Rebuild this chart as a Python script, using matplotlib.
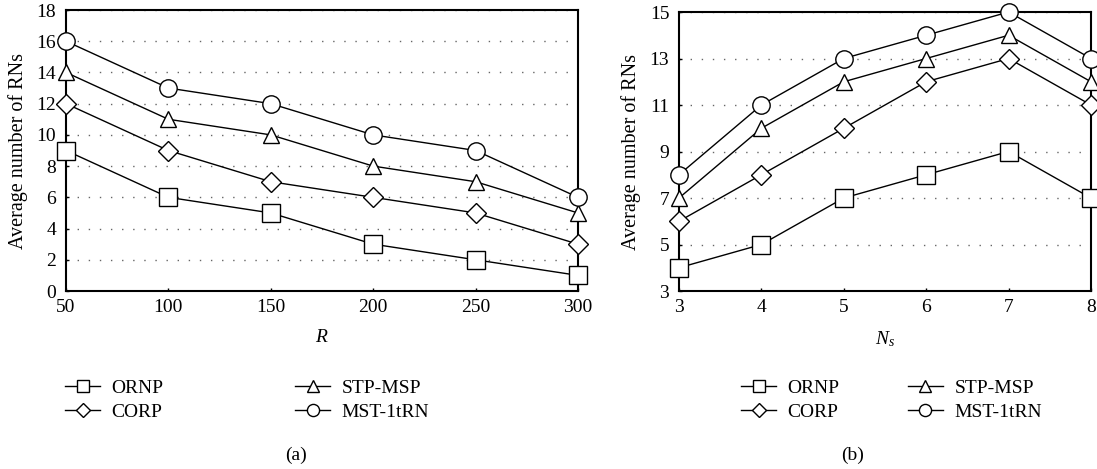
import matplotlib
matplotlib.use("Agg")
import matplotlib.pyplot as plt

plt.rcParams['font.family'] = ['Liberation Serif', 'DejaVu Serif']
plt.rcParams['mathtext.fontset'] = 'custom'
plt.rcParams['mathtext.it'] = 'Liberation Serif:italic'
plt.rcParams['mathtext.rm'] = 'Liberation Serif'

series_names = ["ORNP", "CORP", "STP-MSP", "MST-1tRN"]
markers = ["s", "D", "^", "o"]

R_values = [50, 100, 150, 200, 250, 300]
a_ornp = [9, 6, 5, 3, 2, 1]
a_corp = [12, 9, 7, 6, 5, 3]
a_stp = [14, 11, 10, 8, 7, 5]
a_mst = [16, 13, 12, 10, 9, 6]

Ns_values = [3, 4, 5, 6, 7, 8]
b_ornp = [4, 5, 7, 8, 9, 7]
b_corp = [6, 8, 10, 12, 13, 11]
b_stp = [7, 10, 12, 13, 14, 12]
b_mst = [8, 11, 13, 14, 15, 13]

W, H = 1097, 469
fig = plt.figure(figsize=(W / 100, H / 100), dpi=100)
ax1 = fig.add_axes([66 / W, 178 / H, 512 / W, 281 / H])
ax2 = fig.add_axes([679 / W, 178 / H, 412 / W, 279 / H])

msizes = {"s": 12.5, "D": 10, "^": 12, "o": 12.5}
FS = 14

def draw(ax, x, ys, xticks, yticks, ylim, xlabel):
    handles = []
    for y, m, name in zip(ys, markers, series_names):
        h, = ax.plot(x, y, marker=m, color='black', lw=1.0, markersize=msizes[m],
                     markerfacecolor='white', markeredgecolor='black', markeredgewidth=1.0,
                     label=name, clip_on=False, zorder=3)
        handles.append(h)
    ax.set_xlim(x[0], x[-1])
    ax.set_ylim(*ylim)
    ax.set_xticks(xticks)
    ax.set_yticks(yticks)
    ax.yaxis.grid(True, linestyle=(0, (1, 7)), color='#666666', lw=1.0)
    ax.set_axisbelow(True)
    for s in ax.spines.values():
        s.set_linewidth(1.5)
    ax.tick_params(direction='in', length=2, labelsize=FS, width=1)
    ax.tick_params(axis='x', pad=6)
    ax.tick_params(axis='y', pad=7)
    ax.set_ylabel("Average number of RNs", fontsize=FS + 0.5, labelpad=6)
    ax.set_xlabel(xlabel, fontsize=FS, labelpad=9)
    return handles

h1 = draw(ax1, R_values, [a_ornp, a_corp, a_stp, a_mst], R_values,
          list(range(0, 19, 2)), (0, 18), "$R$")
h2 = draw(ax2, Ns_values, [b_ornp, b_corp, b_stp, b_mst], Ns_values,
          [3, 5, 7, 9, 11, 13, 15], (3, 15), "$N_s$")

def column_legend(hs, xpx):
    fig.legend(hs, [h.get_label() for h in hs], loc='center left',
               bbox_to_anchor=(xpx / W, (H - 400) / H), frameon=False,
               fontsize=FS, handlelength=1.8, handletextpad=0.6,
               labelspacing=0.35, borderpad=0, borderaxespad=0, markerscale=0.7)

column_legend([h1[0], h1[1]], 65)
column_legend([h1[2], h1[3]], 295)
column_legend([h2[0], h2[1]], 741)
column_legend([h2[2], h2[3]], 908)

fig.text(296 / W, (H - 455) / H, "(a)", ha='center', va='center', fontsize=FS)
fig.text(853 / W, (H - 455) / H, "(b)", ha='center', va='center', fontsize=FS)

fig.savefig("out.png", dpi=100)
